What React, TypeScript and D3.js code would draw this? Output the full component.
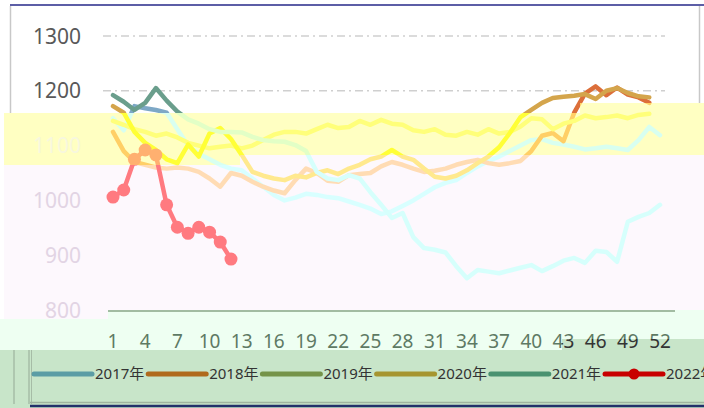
import * as d3 from "d3";

const width = 704;
const height = 408;

// weekly values
const weeks = d3.range(1, 53);
const yTicks = [800, 900, 1000, 1100, 1200, 1300];
const xTickWeeks = weeks.filter(w => (w - 1) % 3 === 0);
const seriesNames = ["2017年", "2018年", "2019年", "2020年", "2021年", "2022年"];

const v2017 = [1150, 1128, 1172, 1168, 1165, 1160, 1130, 1100, 1085, 1075, 1065, 1058, 1055, 1040, 1025, 1010, 1000, 1005, 1012, 1010, 1006, 1004, 998, 992, 985, 975, 980, 990, 1000, 1012, 1024, 1032, 1037, 1050, 1062, 1072, 1080, 1090, 1100, 1110, 1112, 1105, 1102, 1098, 1093, 1095, 1098, 1095, 1092, 1110, 1134, 1119];
const v2018 = [1125, 1090, 1070, 1065, 1060, 1058, 1060, 1058, 1052, 1040, 1025, 1050, 1045, 1034, 1025, 1018, 1013, 1037, 1058, 1050, 1036, 1034, 1046, 1048, 1050, 1062, 1070, 1065, 1058, 1052, 1054, 1058, 1065, 1070, 1074, 1068, 1065, 1068, 1072, 1090, 1118, 1123, 1108, 1160, 1195, 1208, 1192, 1206, 1193, 1188, 1178];
const v2019 = [1145, 1138, 1130, 1125, 1118, 1122, 1115, 1105, 1100, 1095, 1098, 1100, 1095, 1100, 1110, 1120, 1125, 1125, 1122, 1130, 1138, 1132, 1134, 1145, 1138, 1147, 1140, 1138, 1128, 1125, 1130, 1120, 1118, 1125, 1120, 1130, 1122, 1125, 1135, 1150, 1148, 1130, 1140, 1145, 1155, 1150, 1152, 1155, 1150, 1156, 1158];
const v2020 = [1172, 1160, 1125, 1105, 1092, 1075, 1068, 1102, 1080, 1122, 1132, 1112, 1083, 1052, 1045, 1040, 1037, 1045, 1042, 1050, 1055, 1048, 1058, 1065, 1075, 1080, 1092, 1080, 1074, 1058, 1043, 1040, 1045, 1055, 1068, 1080, 1097, 1123, 1152, 1165, 1178, 1187, 1189, 1191, 1194, 1185, 1200, 1205, 1196, 1190, 1188];
const v2021 = [1192, 1180, 1165, 1178, 1205, 1182, 1162, 1148, 1140, 1130, 1125, 1125, 1124, 1116, 1110, 1108, 1107, 1101, 1090, 1052, 1040, 1037, 1046, 1040, 1015, 992, 968, 977, 933, 913, 910, 905, 880, 858, 873, 870, 867, 872, 877, 882, 871, 880, 890, 895, 886, 908, 906, 888, 961, 970, 977, 992];
const v2022 = [1006, 1019, 1075, 1092, 1083, 992, 951, 940, 951, 942, 924, 893];

const allSeries = [v2017, v2018, v2019, v2020, v2021, v2022];
const legendColors = ["#5b9da5", "#b06a1c", "#759349", "#a69530", "#4a9270", "#c80000"];

// the picture is cut into coloured bands; each band shows the chart in its own tint
type Palette = { bg: string; text: string; grid: string | null; colors: string[] };
const palTop: Palette = { bg: "#ffffff", text: "#595959", grid: "#cfcfcf", colors: ["#7da8c6", "#dc6f3a", "#b0b860", "#d4a54c", "#6a9e8c", "#ff6f76"] };
const palBand: Palette = { bg: "#ffffc2", text: "#f7f7de", grid: null, colors: ["#d8fff0", "#ffcf66", "#ffff7a", "#ffff36", "#e2ffc6", "#ffb070"] };
const palPink: Palette = { bg: "#fdf8fd", text: "#e2d4e4", grid: null, colors: ["#d8ffff", "#ffdcb4", "#fff2a8", "#ffe98e", "#d6fffc", "#ff7a80"] };

const regTop = [[10, 6, 570, 107], [580, 6, 119, 97]];
const regBand = [[4, 113, 236, 52], [240, 113, 340, 42], [580, 103, 124, 52]];
const regPink = [[4, 165, 104, 154], [108, 165, 132, 145], [240, 155, 464, 155]];
const regMint = [[0, 319, 108, 31], [108, 310, 454, 40], [562, 310, 142, 29]];
const regLegend = [[0, 350, 704, 58], [562, 339, 142, 11]];

const x = d3.scalePoint<number>().domain(weeks).range([113, 660]);
const y = d3.scaleLinear().domain([800, 1300]).range([310, 36]);
const line = d3.line<number>().x((_, i) => x(i + 1) as number).y(d => y(d));

const font = "'Noto Sans', 'Noto Sans CJK SC', sans-serif";

const ClipDef = ({ id, rects }: { id: string; rects: number[][] }) => (
  <clipPath id={id}>
    {rects.map((r, i) => <rect key={i} x={r[0]} y={r[1]} width={r[2]} height={r[3]} />)}
  </clipPath>
);

const Plot = ({ pal }: { pal: Palette }) => (
  <g>
    {pal.grid && yTicks.filter(t => t > 800).map(t => (
      <line key={t} x1={103} x2={665} y1={y(t)} y2={y(t)} stroke={pal.grid} strokeWidth={1.5} strokeDasharray="8 4 2 4" />
    ))}
    {yTicks.map(t => (
      <text key={t} x={81} y={y(t)} dy="0.36em" textAnchor="end" fontSize={21} fill={pal.text} fontFamily={font}>{t}</text>
    ))}
    {allSeries.map((s, i) => (
      <path key={i} d={line(s) ?? ""} fill="none" stroke={pal.colors[i]} strokeWidth={4.5} strokeLinejoin="round" strokeLinecap="round" />
    ))}
    {v2022.map((v, i) => (
      <circle key={i} cx={x(i + 1)} cy={y(v)} r={6.5} fill={pal.colors[5]} />
    ))}
  </g>
);

const XLabels = ({ color }: { color: string }) => (
  <g>
    {xTickWeeks.map(w => (
      <text key={w} x={x(w)} y={341} dy="0.36em" textAnchor="middle" fontSize={19} fill={color} fontFamily={font}>{w}</text>
    ))}
  </g>
);

const App = () => {
  return (
    <svg width={width} height={height} viewBox={`0 0 ${width} ${height}`} style={{ position: "absolute", left: 0, top: 0, display: "block" }}>
      <defs>
        <ClipDef id="c-top" rects={regTop} />
        <ClipDef id="c-band" rects={regBand} />
        <ClipDef id="c-pink" rects={regPink} />
        <ClipDef id="c-mint" rects={regMint} />
        <ClipDef id="c-leg" rects={regLegend} />
      </defs>
      <rect width={width} height={height} fill="#ffffff" />

      {/* top, untouched part */}
      <g clipPath="url(#c-top)">
        <Plot pal={palTop} />
      </g>
      <line x1={10} x2={704} y1={5} y2={5} stroke="#5c5ea6" strokeWidth={2} />
      <line x1={10.5} x2={10.5} y1={6} y2={113} stroke="#c8c8c8" strokeWidth={1.5} />
      <line x1={699.5} x2={699.5} y1={6} y2={103} stroke="#c8c8c8" strokeWidth={1.5} />

      {/* yellow band */}
      <g clipPath="url(#c-band)">
        <rect width={width} height={height} fill={palBand.bg} />
        <Plot pal={palBand} />
      </g>

      {/* pale pink band */}
      <g clipPath="url(#c-pink)">
        <rect width={width} height={height} fill={palPink.bg} />
        <Plot pal={palPink} />
      </g>

      {/* mint strip with the category axis */}
      <g clipPath="url(#c-mint)">
        <rect width={width} height={height} fill="#eefff2" />
        <line x1={108} x2={675} y1={311} y2={311} stroke="#a2bca2" strokeWidth={2} />
        <XLabels color="#5e7a64" />
      </g>

      {/* legend band */}
      <g clipPath="url(#c-leg)">
        <rect width={width} height={height} fill="#c8e5c9" />
        <XLabels color="#333333" />
        <line x1={14} x2={14} y1={350} y2={404} stroke="#a6bca6" strokeWidth={1.5} />
        <line x1={29} x2={29} y1={350} y2={404} stroke="#a6bca6" strokeWidth={1.5} />
        <line x1={31.5} x2={31.5} y1={350} y2={404} stroke="#a6bca6" strokeWidth={1} />
        <line x1={30} x2={704} y1={402.5} y2={402.5} stroke="#9fb49f" strokeWidth={1.5} />
        <line x1={30} x2={704} y1={406} y2={406} stroke="#22306a" strokeWidth={2.5} />
        {seriesNames.map((name, i) => {
          const x0 = 34 + i * 114.2;
          return (
            <g key={name}>
              <line x1={x0} x2={x0 + 58} y1={374} y2={374} stroke={legendColors[i]} strokeWidth={5} strokeLinecap="round" />
              {i === 5 && <circle cx={x0 + 29} cy={374} r={5.5} fill={legendColors[i]} />}
              <text x={x0 + 61} y={374} dy="0.36em" fontSize={15} fill="#333333" fontFamily={font}>{name}</text>
            </g>
          );
        })}
      </g>
    </svg>
  );
};

export default App;
